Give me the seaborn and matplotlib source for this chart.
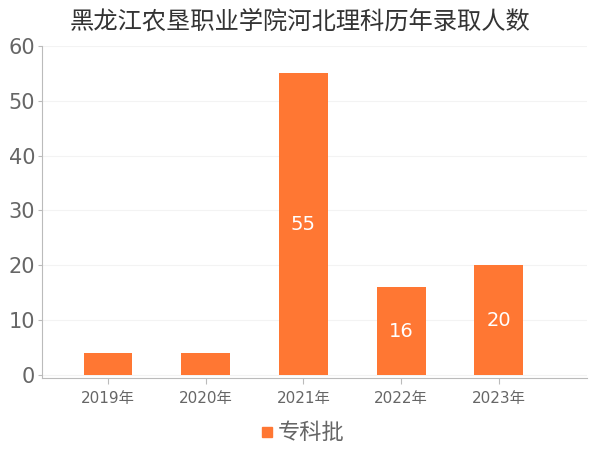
import matplotlib
matplotlib.use("Agg")
import matplotlib.pyplot as plt
import seaborn as sns
import pandas as pd
from matplotlib.lines import Line2D

years = ["2019年", "2020年", "2021年", "2022年", "2023年"]
values = [4, 4, 55, 16, 20]
series_name = "专科批"
title = "黑龙江农垦职业学院河北理科历年录取人数"
yticks = [0, 10, 20, 30, 40, 50, 60]

sns.set_theme(style="white")
plt.rcParams['font.family'] = ['DejaVu Sans', 'Noto Sans CJK SC']

df = pd.DataFrame({"year": years, "value": values})
color = "#FF7733"
gray = "#666666"

fig = plt.figure(figsize=(6, 4.5), dpi=100)
ax = fig.add_axes([0.07, 0.16, 0.908, 0.738])
sns.barplot(data=df, x="year", y="value", color=color, width=0.5, ax=ax,
            saturation=1, linewidth=0)

ax.set_xlim(-0.675, 4.9)
ax.set_ylim(-0.55, 60)
ax.set_yticks(yticks)
ax.set_xlabel("")
ax.set_ylabel("")
ax.grid(axis="y", color="#f3f3f3", linewidth=0.8)
ax.set_axisbelow(True)
for s in ["top", "right"]:
    ax.spines[s].set_visible(False)
for s in ["left", "bottom"]:
    ax.spines[s].set_color("#bbbbbb")
    ax.spines[s].set_linewidth(0.8)
ax.tick_params(axis="y", labelsize=15, colors="#bbbbbb", labelcolor=gray, length=3, width=0.8, left=True, pad=2)
ax.tick_params(axis="x", labelsize=11, colors="#bbbbbb", labelcolor=gray, length=4, width=0.8, bottom=True, pad=5)

for i, v in enumerate(values):
    if v >= 10:
        ax.text(i, v / 2, str(v), ha="center", va="center", color="white", fontsize=14)

fig.suptitle(title, fontsize=17.5, color="#333333", y=0.982,
             family=['Noto Sans CJK SC', 'DejaVu Sans'])

handle = Line2D([], [], marker="s", linestyle="", color=color, markersize=7)
fig.legend([handle], [series_name], loc="lower center", bbox_to_anchor=(0.5, -0.032),
           frameon=False, handletextpad=0.0, handlelength=1.0, labelcolor=gray,
           prop={'family': ['Noto Sans CJK SC', 'DejaVu Sans'], 'size': 16})

fig.savefig("out.png", dpi=100)
